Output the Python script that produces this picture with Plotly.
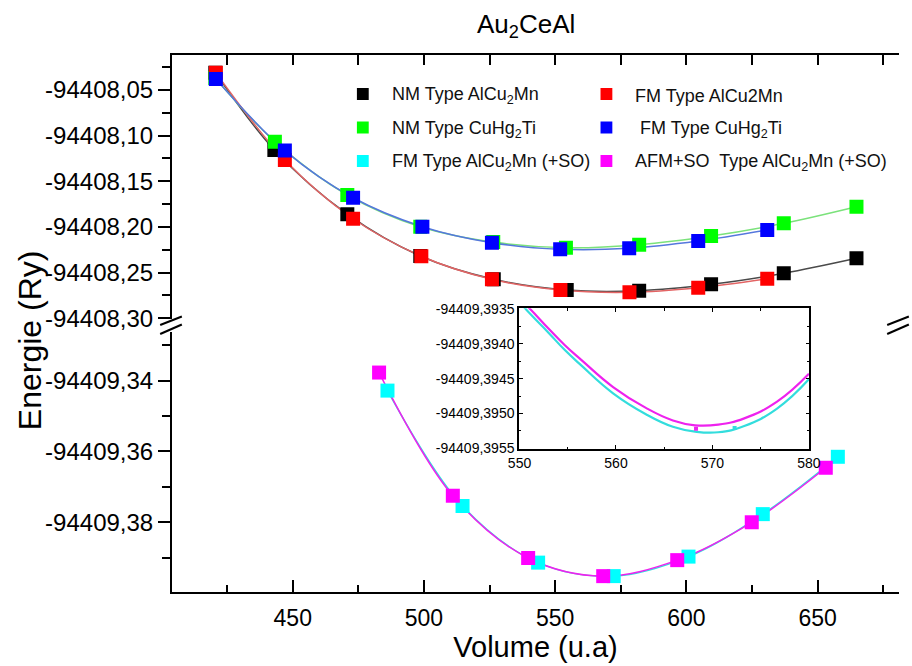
import plotly.graph_objects as go

# ---------------- data ----------------
# NM, AlCu2Mn-type
nm_alcu2mn_v = [420.5, 443.0, 470.8, 498.6, 526.6, 554.4, 582.0, 609.4, 637.1, 664.8]
nm_alcu2mn_e = [-94408.0310, -94408.1157, -94408.1860, -94408.2318, -94408.2573,
                -94408.2690, -94408.2698, -94408.2628, -94408.2507, -94408.2343]
# NM, CuHg2Ti-type
nm_cuhg2ti_v = [420.5, 443.2, 470.8, 498.6, 526.4, 554.1, 582.0, 609.4, 637.1, 664.8]
nm_cuhg2ti_e = [-94408.0370, -94408.1066, -94408.1650, -94408.1997, -94408.2165,
                -94408.2227, -94408.2194, -94408.2099, -94408.1960, -94408.1778]
# FM, AlCu2Mn-type
fm_alcu2mn_v = [420.7, 447.0, 473.0, 499.0, 525.9, 552.0, 578.3, 604.5, 630.8]
fm_alcu2mn_e = [-94408.0310, -94408.1267, -94408.1910, -94408.2320, -94408.2573,
                -94408.2690, -94408.2715, -94408.2665, -94408.2566]
# FM, CuHg2Ti-type
fm_cuhg2ti_v = [420.7, 447.0, 473.0, 499.4, 525.9, 551.9, 578.2, 604.5, 630.8]
fm_cuhg2ti_e = [-94408.0380, -94408.1164, -94408.1680, -94408.1997, -94408.2172,
                -94408.2245, -94408.2234, -94408.2154, -94408.2033]
# FM, AlCu2Mn-type with spin-orbit
fm_so_v = [486.1, 514.7, 543.5, 572.3, 600.8, 629.1, 657.7]
fm_so_e = [-94409.3428, -94409.3754, -94409.3914, -94409.39521, -94409.3897,
           -94409.3777, -94409.3615]
# AFM+SO, AlCu2Mn-type with spin-orbit
afm_so_v = [482.9, 511.0, 539.7, 568.3, 596.5, 624.9, 653.1]
afm_so_e = [-94409.3377, -94409.3725, -94409.3901, -94409.39522, -94409.3907,
            -94409.3800, -94409.3646]

# fitted E(V) curves around the minimum (zoomed view)
inset_v = [550.0, 551.1, 553.0, 554.7, 556.4, 559.7, 563.1, 565.9, 568.2, 570.6, 573.3, 576.7, 580.0]
inset_afm = [-94409.39335, -94409.39350, -94409.39378, -94409.39402, -94409.39423, -94409.39462,
             -94409.39492, -94409.39510, -94409.39517, -94409.39516, -94409.39507, -94409.39483,
             -94409.39443]
inset_fm = [-94409.39340, -94409.39357, -94409.39384, -94409.39409, -94409.39431, -94409.39471,
            -94409.39501, -94409.39519, -94409.39526, -94409.39527, -94409.39518, -94409.39493,
            -94409.39451]

# tick labels
x_ticks = [450, 500, 550, 600, 650]
upper_ticks = [-94408.05, -94408.10, -94408.15, -94408.20, -94408.25, -94408.30]
upper_labels = ["-94408,05", "-94408,10", "-94408,15", "-94408,20", "-94408,25", "-94408,30"]
lower_ticks = [-94409.34, -94409.36, -94409.38]
lower_labels = ["-94409,34", "-94409,36", "-94409,38"]
inset_xticks = [550, 560, 570, 580]
inset_yticks = [-94409.3935, -94409.3940, -94409.3945, -94409.3950, -94409.3955]
inset_ylabels = ["-94409,3935", "-94409,3940", "-94409,3945", "-94409,3950", "-94409,3955"]

legend_items = [
    ("NM Type AlCu<sub>2</sub>Mn", "#000000"),
    ("FM Type AlCu2Mn", "#ff0000"),
    ("NM Type CuHg<sub>2</sub>Ti", "#00ff00"),
    (" FM Type CuHg<sub>2</sub>Ti", "#0000ff"),
    ("FM Type AlCu<sub>2</sub>Mn (+SO)", "#00ffff"),
    ("AFM+SO  Type AlCu<sub>2</sub>Mn (+SO)", "#ff00ff"),
]

# ---------------- layout helpers ----------------
FIG_W, FIG_H = 912, 666
L, R, T, B = 172, 910, 55, 592
W, H = R - L, B - T


def fx(px):
    return (px - L) / W


def fy(py):
    return (B - py) / H


FONT = "Liberation Sans, Arial, sans-serif"
UP_BOT, LOW_TOP = 318.5, 332.0

fig = go.Figure()


def fit_line(x, y, color, xa, ya, width=1.5, smoothing=1.0):
    fig.add_trace(go.Scatter(
        x=x, y=y, mode="lines", xaxis=xa, yaxis=ya, showlegend=False, hoverinfo="skip",
        line=dict(color=color, width=width, shape="spline", smoothing=smoothing)))


def points(x, y, color, xa, ya, size=14):
    fig.add_trace(go.Scatter(
        x=x, y=y, mode="markers", xaxis=xa, yaxis=ya, showlegend=False,
        marker=dict(symbol="square", size=size, color=color, line=dict(width=0))))


# upper panel (non spin-orbit)
fit_line(nm_alcu2mn_v, nm_alcu2mn_e, "#4a4a4a", "x2", "y2")
fit_line(nm_cuhg2ti_v, nm_cuhg2ti_e, "#7be27b", "x2", "y2")
fit_line(fm_alcu2mn_v, fm_alcu2mn_e, "#e36464", "x2", "y2")
fit_line(fm_cuhg2ti_v, fm_cuhg2ti_e, "#5577dd", "x2", "y2")
points(nm_alcu2mn_v, nm_alcu2mn_e, "#000000", "x2", "y2")
points(nm_cuhg2ti_v, nm_cuhg2ti_e, "#00ff00", "x2", "y2")
points(fm_alcu2mn_v, fm_alcu2mn_e, "#ff0000", "x2", "y2")
points(fm_cuhg2ti_v, fm_cuhg2ti_e, "#0000ff", "x2", "y2")

# lower panel (spin-orbit)
fit_line(fm_so_v, fm_so_e, "#33dddd", "x", "y")
fit_line(afm_so_v, afm_so_e, "#ee22ee", "x", "y")
points(fm_so_v, fm_so_e, "#00ffff", "x", "y")
points(afm_so_v, afm_so_e, "#ff00ff", "x", "y")

# zoomed view of the minimum
fit_line(inset_v, inset_fm, "#33dddd", "x3", "y5", width=2.2, smoothing=1.3)
fit_line(inset_v, inset_afm, "#ee22ee", "x3", "y5", width=2.2, smoothing=1.3)
points(fm_so_v, fm_so_e, "#33dddd", "x3", "y5", size=4)
points(afm_so_v, afm_so_e, "#ee22ee", "x3", "y5", size=4)

AX = dict(showgrid=False, zeroline=False, showline=True, linecolor="black", linewidth=2,
          tickcolor="black", tickwidth=2, tickfont=dict(family=FONT, size=24, color="black"))

x_range = [404, 681]
up_range = [-94408.30 - (UP_BOT - 318.3) / 913.2, -94408.0117]
low_range = [-94409.3997, -94409.34 + (380.7 - LOW_TOP) / 3540]

fig.update_layout(
    width=FIG_W, height=FIG_H,
    margin=dict(l=L, r=FIG_W - R, t=T, b=FIG_H - B),
    paper_bgcolor="white", plot_bgcolor="white",
    showlegend=False,
    font=dict(family=FONT, color="black", size=16),
    xaxis=dict(AX, domain=[0, 1], anchor="y", range=x_range, ticks="inside", ticklen=12,
               tickmode="array", tickvals=x_ticks, ticktext=[str(v) for v in x_ticks],
               tickfont=dict(family=FONT, size=23, color="black"),
               minor=dict(ticks="inside", ticklen=7, tickwidth=2, tickcolor="black",
                          tick0=425, dtick=50),
               ticklabelstandoff=4,
               title=dict(text="Volume (u.a)", font=dict(family=FONT, size=29), standoff=6)),
    xaxis2=dict(AX, domain=[0, 1], anchor="y2", range=x_range, side="top", ticks="inside",
                ticklen=10, tickmode="linear", tick0=0, dtick=25, showticklabels=False),
    yaxis=dict(AX, domain=[0, fy(LOW_TOP)], anchor="x", range=low_range, ticks="outside",
               ticklen=12, tickmode="array", tickvals=lower_ticks, ticktext=lower_labels,
               minor=dict(ticks="outside", ticklen=8, tickwidth=2, tickcolor="black",
                          tick0=-94409.33, dtick=0.02)),
    yaxis2=dict(AX, domain=[fy(UP_BOT), 1], anchor="x2", range=up_range, ticks="outside",
                ticklen=12, tickmode="array", tickvals=upper_ticks, ticktext=upper_labels,
                minor=dict(ticks="outside", ticklen=8, tickwidth=2, tickcolor="black",
                           tick0=-94408.025, dtick=0.05)),
    yaxis3=dict(AX, overlaying="y", anchor="x", side="right", range=low_range,
                ticks="inside", ticklen=8, tickmode="array", tickvals=lower_ticks,
                showticklabels=False,
                minor=dict(ticks="inside", ticklen=4, tickwidth=2, tickcolor="black",
                           tick0=-94409.33, dtick=0.02)),
    yaxis4=dict(AX, overlaying="y2", anchor="x2", side="right", range=up_range,
                ticks="inside", ticklen=8, tickmode="array", tickvals=upper_ticks,
                showticklabels=False,
                minor=dict(ticks="inside", ticklen=4, tickwidth=2, tickcolor="black",
                           tick0=-94408.025, dtick=0.05)),
    xaxis3=dict(AX, domain=[fx(524.3), fx(819)], anchor="y5", range=[549.95, 580.05],
                linewidth=1.5, tickwidth=1.2, ticks="inside", ticklen=4, mirror="allticks",
                tickmode="array", tickvals=inset_xticks, ticktext=[str(v) for v in inset_xticks],
                tickfont=dict(family=FONT, size=14, color="black"),
                minor=dict(ticks="inside", ticklen=2.5, tickwidth=1, tickcolor="black",
                           tick0=555, dtick=10)),
    yaxis5=dict(AX, domain=[fy(449), fy(308.3)], anchor="x3",
                range=[-94409.39551, -94409.39349],
                linewidth=1.5, tickwidth=1.2, ticks="inside", ticklen=4, mirror="allticks",
                tickmode="array", tickvals=inset_yticks, ticktext=inset_ylabels,
                tickfont=dict(family=FONT, size=14, color="black"),
                minor=dict(ticks="inside", ticklen=2.5, tickwidth=1, tickcolor="black",
                           tick0=-94409.39375, dtick=0.0005)),
)

# axis-break marks on both sides
shapes = []
for xc in (172, 910):
    for (ya, yb) in ((325, 316.5), (334, 324.5)):
        shapes.append(dict(type="line", xref="paper", yref="paper",
                           x0=fx(xc - 12), y0=fy(ya), x1=fx(xc + 10), y1=fy(yb),
                           line=dict(color="black", width=2)))

# legend: two columns of square swatches with labels
annotations = []
col_sq = [365.7, 613.0]
col_tx = [393.0, 640.0]
rows = [94.0, 127.5, 161.0]
for i, (label, color) in enumerate(legend_items):
    c, r = i % 2, i // 2
    cx, cy = col_sq[c], rows[r]
    shapes.append(dict(type="rect", xref="paper", yref="paper",
                       x0=fx(cx - 6), x1=fx(cx + 6), y0=fy(cy + 6), y1=fy(cy - 6),
                       fillcolor=color, line=dict(width=0)))
    annotations.append(dict(text=label, xref="paper", yref="paper", x=fx(col_tx[c]),
                            y=fy(cy + 1.5), xanchor="left", yanchor="middle", showarrow=False,
                            font=dict(family=FONT, size=18, color="#111111")))

annotations.append(dict(text="Au<sub>2</sub>CeAl", xref="paper", yref="paper",
                        x=fx(531.7), y=fy(26), xanchor="center", yanchor="middle",
                        showarrow=False, font=dict(family=FONT, size=26, color="black")))
annotations.append(dict(text="Energie (Ry)", xref="paper", yref="paper", x=fx(28),
                        y=fy(340), xanchor="center", yanchor="middle", textangle=-90,
                        showarrow=False, font=dict(family=FONT, size=32, color="black")))

fig.update_layout(shapes=shapes, annotations=annotations)

fig.write_html("out.html")
